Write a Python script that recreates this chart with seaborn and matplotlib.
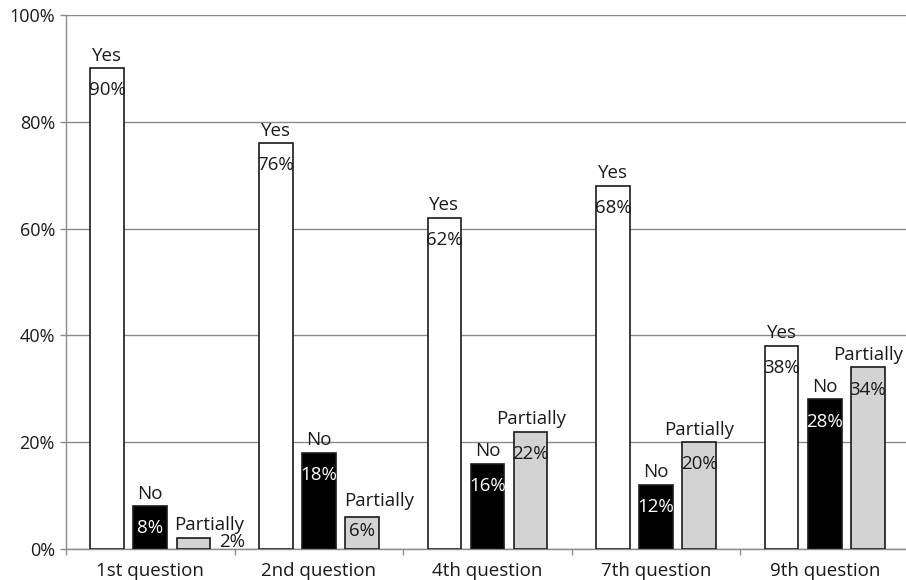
import matplotlib
matplotlib.use("Agg")
import matplotlib.pyplot as plt
import matplotlib.ticker as mticker
import seaborn as sns
import pandas as pd

questions = ["1st question", "2nd question", "4th question", "7th question", "9th question"]
answers = ["Yes", "No", "Partially"]
yes_vals = [90, 76, 62, 68, 38]
no_vals = [8, 18, 16, 12, 28]
partial_vals = [2, 6, 22, 20, 34]
y_ticks = [0, 20, 40, 60, 80, 100]

df = pd.DataFrame({
    "question": questions * 3,
    "answer": ["Yes"] * 5 + ["No"] * 5 + ["Partially"] * 5,
    "value": yes_vals + no_vals + partial_vals,
})

sns.set_theme(style="white")
plt.rcParams["font.family"] = ["Open Sans", "DejaVu Sans"]

fig = plt.figure(figsize=(9.06, 5.8), dpi=100)
ax = fig.add_axes([66 / 906, 1 - 549 / 580, (909 - 66) / 906, (549 - 15) / 580])

palette = {"Yes": "white", "No": "black", "Partially": "#d3d3d3"}
sns.barplot(data=df, x="question", y="value", hue="answer", order=questions,
            hue_order=answers, palette=palette, saturation=1, width=0.768, gap=0.22,
            edgecolor="#1a1a1a", linewidth=1.2, legend=False, ax=ax, zorder=3)

ax.set_ylim(0, 100)
ax.set_xlim(-0.5, len(questions) - 0.5)
ax.set_yticks(y_ticks)
ax.yaxis.set_major_formatter(mticker.FuncFormatter(lambda v, p: f"{int(v)}%"))
ax.grid(axis="y", color="#8a8a8a", linewidth=1.0, zorder=0)
ax.set_axisbelow(True)
ax.set_xlabel("")
ax.set_ylabel("")

for side in ["top", "right"]:
    ax.spines[side].set_visible(False)
for side in ["left", "bottom"]:
    ax.spines[side].set_color("#8a8a8a")
    ax.spines[side].set_linewidth(1.0)

ax.xaxis.set_minor_locator(mticker.FixedLocator([i - 0.5 for i in range(len(questions) + 1)]))
ax.tick_params(axis="x", which="major", length=0, pad=9, labelsize=13.5, labelcolor="#1a1a1a")
ax.tick_params(axis="x", which="minor", length=4, color="#8a8a8a", width=1, direction="out", bottom=True)
ax.tick_params(axis="y", which="major", length=4, color="#8a8a8a", width=1, pad=4, labelsize=13, labelcolor="#1a1a1a", left=True)

fs = 13.5
text_color = {"Yes": "#1a1a1a", "No": "white", "Partially": "#1a1a1a"}
for answer, container in zip(answers, ax.containers):
    for rect in container:
        h = rect.get_height()
        cx = rect.get_x() + rect.get_width() / 2
        right = rect.get_x() + rect.get_width()
        if h < 5:
            ax.annotate(answer, xy=(cx, h), xytext=(11, 6), textcoords="offset points",
                        ha="center", va="baseline", fontsize=fs, color="#1a1a1a", zorder=5)
            ax.annotate(f"{int(round(h))}%", xy=(right, 0), xytext=(6, 1.5), textcoords="offset points",
                        ha="left", va="baseline", fontsize=fs, color="#1a1a1a", zorder=5)
        elif h < 10 and answer == "Partially":
            ax.annotate(answer, xy=(cx, h), xytext=(12, 8), textcoords="offset points",
                        ha="center", va="baseline", fontsize=fs, color="#1a1a1a", zorder=5)
            ax.annotate(f"{int(round(h))}%", xy=(cx, h), xytext=(0, -14), textcoords="offset points",
                        ha="center", va="baseline", fontsize=fs, color=text_color[answer], zorder=5)
        else:
            ax.annotate(answer, xy=(cx, h), xytext=(0, 5.5), textcoords="offset points",
                        ha="center", va="baseline", fontsize=fs, color="#1a1a1a", zorder=5)
            ax.annotate(f"{int(round(h))}%", xy=(cx, h), xytext=(0, -19.5), textcoords="offset points",
                        ha="center", va="baseline", fontsize=fs, color=text_color[answer], zorder=5)

fig.savefig("out.png", dpi=100)
